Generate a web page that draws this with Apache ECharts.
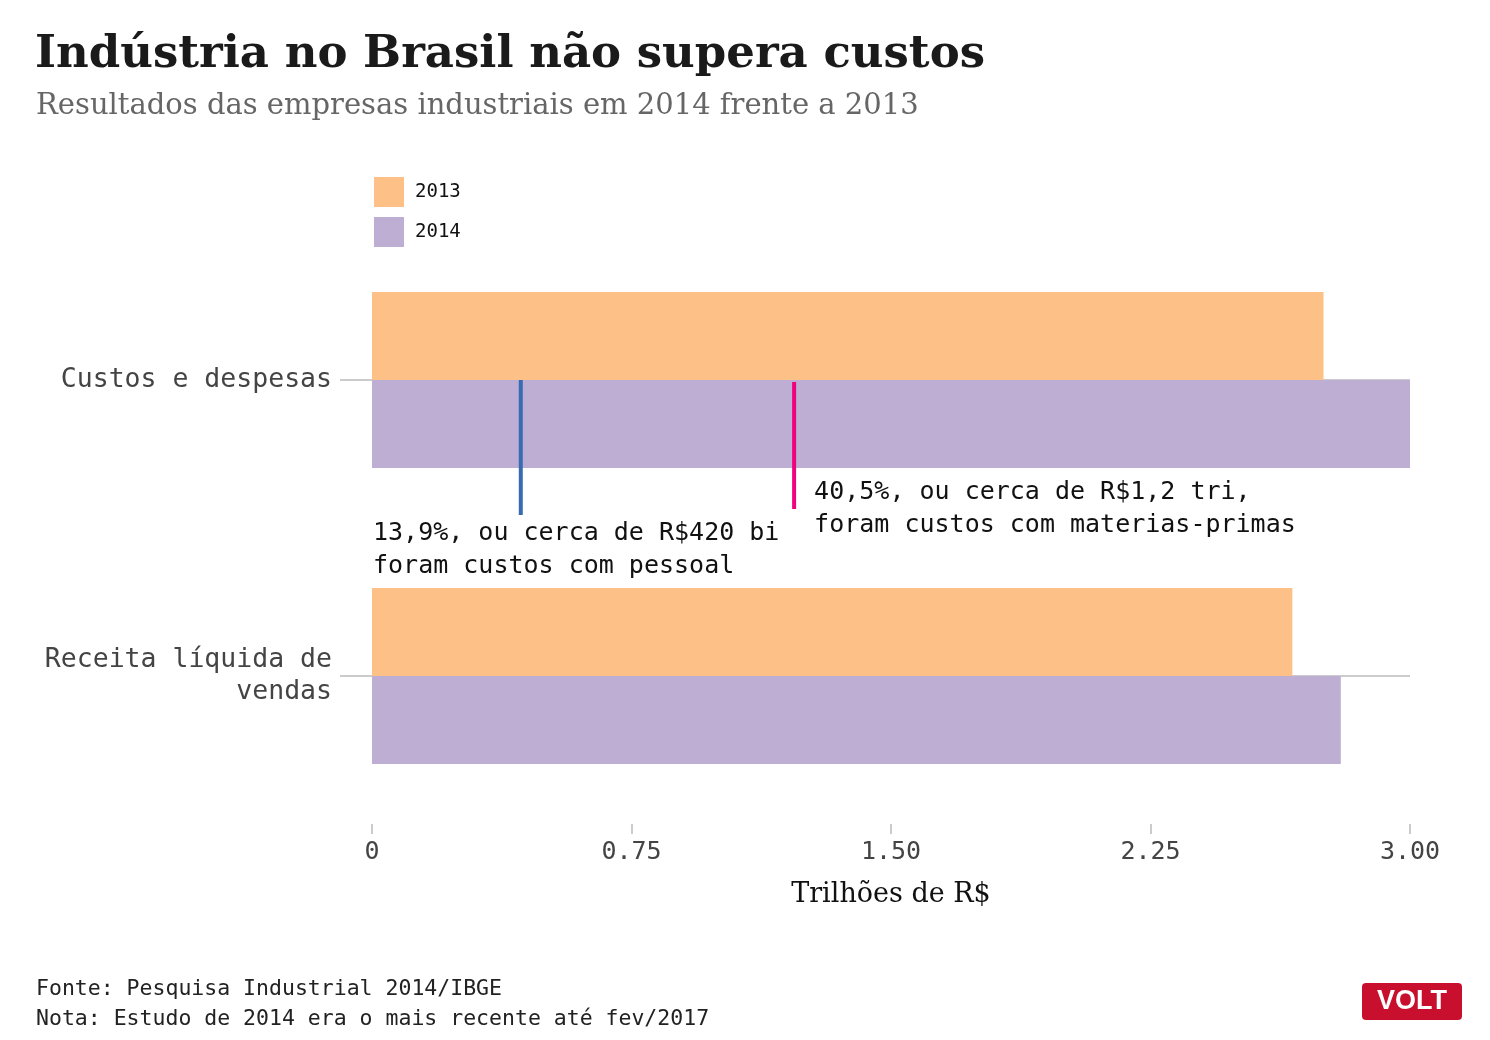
<!DOCTYPE html>
<html>
<head>
<meta charset="utf-8">
<script src="https://cdn.jsdelivr.net/npm/echarts@6/dist/echarts.min.js"></script>
<style>
html,body{margin:0;padding:0;background:#fff;}
#chart{width:1490px;height:1040px;}
</style>
</head>
<body>
<div id="chart"></div>
<script>
// ---- data ----
var categories = ['Custos e despesas', 'Receita líquida de\nvendas'];
var seriesNames = ['2013', '2014'];
var values2013 = [2.75, 2.66];
var values2014 = [3.00, 2.80];
var xTickLabels = ['0', '0.75', '1.50', '2.25', '3.00'];
var annotValues = [0.43, 1.22];
var annotCategory = [0, 0];
var annotTexts = ['13,9%, ou cerca de R$420 bi\nforam custos com pessoal',
                  '40,5%, ou cerca de R$1,2 tri,\nforam custos com materias-primas'];

// ---- styles ----
var MONO = "'DejaVu Sans Mono', 'Liberation Mono', monospace";
var SERIF = "'DejaVu Serif', 'Liberation Serif', serif";
var annotStyle = [
  {color: '#386cb0', lineTop: 0, lineLen: 135, textDx: null, textDy: 137},
  {color: '#f0027f', lineTop: 2, lineLen: 127, textDx: 20, textDy: 96}
];

var chart = echarts.init(document.getElementById('chart'), null, {renderer: 'canvas'});

var option = {
  backgroundColor: '#ffffff',
  animation: false,
  title: [
    {text: 'Indústria no Brasil não supera custos', left: 35, top: 33, padding: 0,
     textStyle: {fontFamily: SERIF, fontWeight: 'bold', fontSize: 45, color: '#1a1a1a'}},
    {text: 'Resultados das empresas industriais em 2014 frente a 2013', left: 36, top: 92, padding: 0,
     textStyle: {fontFamily: SERIF, fontWeight: 'normal', fontSize: 29, color: '#666666'}},
    {text: 'Fonte: Pesquisa Industrial 2014/IBGE\nNota: Estudo de 2014 era o mais recente até fev/2017',
     left: 36, top: 974, padding: 0,
     textStyle: {fontFamily: MONO, fontWeight: 'normal', fontSize: 21.5, lineHeight: 30, color: '#222222'}}
  ],
  legend: {
    data: seriesNames, orient: 'vertical', left: 374, top: 177, padding: 0,
    itemWidth: 30, itemHeight: 30, itemGap: 10, icon: 'rect',
    textStyle: {fontFamily: MONO, fontSize: 19, color: '#111111', padding: [2, 0, 0, 6]}
  },
  grid: {left: 372, right: 80, top: 232, bottom: 216, containLabel: false},
  xAxis: {
    type: 'value', min: 0, max: 3, interval: 0.75,
    axisLine: {show: false},
    axisTick: {show: true, length: 10, lineStyle: {color: '#bbbbbb', width: 1.5}},
    splitLine: {show: false},
    axisLabel: {
      margin: 16, fontFamily: MONO, fontSize: 25, color: '#444444',
      formatter: function (v) { return xTickLabels[Math.round(v / 0.75)]; }
    },
    name: 'Trilhões de R$', nameLocation: 'middle', nameGap: 57,
    nameTextStyle: {fontFamily: SERIF, fontSize: 27, color: '#111111'}
  },
  yAxis: {
    type: 'category', data: categories, inverse: true,
    axisLine: {show: false},
    axisTick: {show: true, alignWithLabel: true, length: 32, lineStyle: {color: '#bbbbbb', width: 1.5}},
    axisLabel: {margin: 40, fontFamily: MONO, fontSize: 26.5, lineHeight: 32, color: '#444444',
                align: 'right', padding: [6, 0, 0, 0]},
    splitLine: {show: false}
  },
  series: [
    {name: 'grid', type: 'custom', z: 1, silent: true,
     data: categories.map(function (c, i) { return [0, i]; }),
     renderItem: function (params, api) {
       var cs = params.coordSys;
       var y = api.coord([0, api.value(1)])[1];
       return {type: 'line', shape: {x1: cs.x, y1: y, x2: cs.x + cs.width, y2: y},
               style: {stroke: '#bbbbbb', lineWidth: 1.5}};
     }},
    {name: '2013', type: 'bar', data: values2013, barWidth: 88, barGap: '0%',
     itemStyle: {color: '#fdc086'}, z: 2},
    {name: '2014', type: 'bar', data: values2014, barWidth: 88, barGap: '0%',
     itemStyle: {color: '#beaed4'}, z: 2},
    {name: 'annot', type: 'custom', z: 10, silent: true,
     data: annotValues.map(function (v, i) { return [v, annotCategory[i], i]; }),
     renderItem: function (params, api) {
       var i = api.value(2);
       var st = annotStyle[i];
       var p = api.coord([api.value(0), api.value(1)]);
       var p0 = api.coord([0, api.value(1)]);
       var tx = st.textDx === null ? p0[0] + 1 : p[0] + st.textDx;
       return {
         type: 'group',
         children: [
           {type: 'line', shape: {x1: p[0], y1: p[1] + st.lineTop, x2: p[0], y2: p[1] + st.lineLen + st.lineTop},
            style: {stroke: st.color, lineWidth: 4}},
           {type: 'text', x: tx, y: p[1] + st.textDy,
            style: {text: annotTexts[i], font: "25px " + MONO, fill: '#111111',
                    lineHeight: 33, textAlign: 'left', textVerticalAlign: 'top'}}
         ]
       };
     }}
  ],
  graphic: [
    {type: 'rect', left: 1362, top: 983, shape: {width: 100, height: 37, r: 4},
     style: {fill: '#c8102e'}},
    {type: 'text', x: 1412, y: 1002,
     style: {text: 'VOLT', font: "bold 27px 'Liberation Sans', sans-serif", fill: '#ffffff',
             textAlign: 'center', textVerticalAlign: 'middle'}}
  ]
};
chart.setOption(option);
</script>
</body>
</html>
